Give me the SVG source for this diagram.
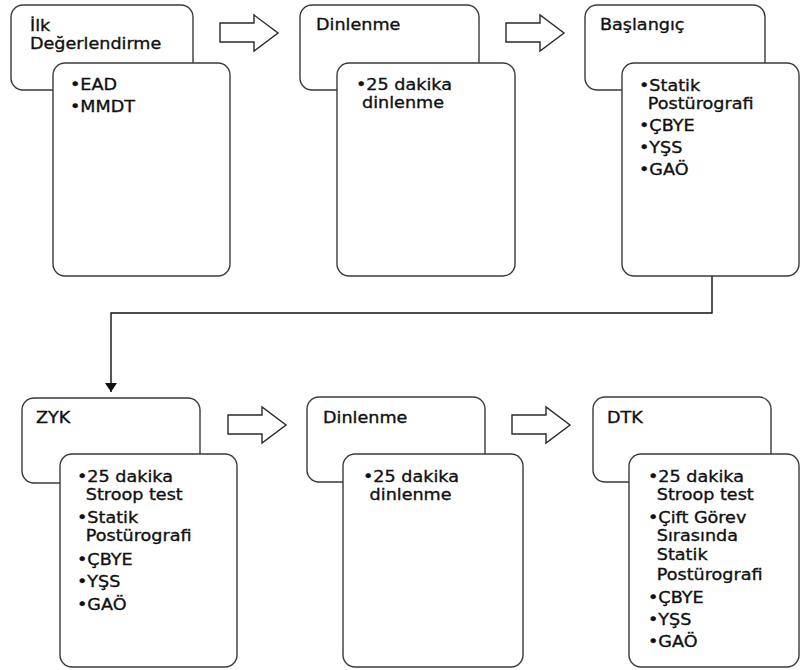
<svg xmlns="http://www.w3.org/2000/svg" width="800" height="670" viewBox="0 0 800 670">
<style>
.bx{fill:#fff;stroke:#3a3a3a;stroke-width:1.4}
.ar{fill:#fff;stroke:#2a2a2a;stroke-width:1.4;stroke-linejoin:miter}
.t{font-family:"DejaVu Sans","Verdana",sans-serif;font-size:16px;fill:#111;stroke:#111;stroke-width:0.35}
.cn{fill:none;stroke:#111;stroke-width:1.4}
</style>
<defs>
<marker id="ah" viewBox="0 0 9 12" refX="9" refY="6" markerWidth="9" markerHeight="12" markerUnits="userSpaceOnUse" orient="auto">
<path d="M0,0 L9,6 L0,12 Z" fill="#111"/>
</marker>
<path id="blk" d="M0,8 H34 V0 L58,18 L34,36 V27 H0 Z"/>
</defs>
<rect width="800" height="670" fill="#fff"/>

<g id="connectors">
<use href="#blk" class="ar" transform="translate(220 15)"/>
<use href="#blk" class="ar" transform="translate(506 15)"/>
<use href="#blk" class="ar" transform="translate(228 407)"/>
<use href="#blk" class="ar" transform="translate(512 407)"/>
<path class="cn" d="M712,276 V313 H111 V392" marker-end="url(#ah)"/>
</g>

<g id="ilk">
<rect class="bx" x="11" y="5" width="182" height="85" rx="12"/>
<text class="t" transform="translate(30 31) scale(1.1 1)">İlk<tspan x="0" y="18.5">Değerlendirme</tspan></text>
<rect class="bx" x="53" y="63" width="177" height="213" rx="12"/>
<text class="t" transform="translate(70 90) scale(1.1 1)">•EAD<tspan x="0" y="22">•MMDT</tspan></text>
</g>

<g id="dinlenme1">
<rect class="bx" x="300" y="5" width="179" height="85" rx="12"/>
<text class="t" transform="translate(316 30) scale(1.1 1)">Dinlenme</text>
<rect class="bx" x="337" y="63" width="178" height="213" rx="12"/>
<text class="t" transform="translate(356 90) scale(1.1 1)">•25 dakika<tspan x="5.5" y="18.5">dinlenme</tspan></text>
</g>

<g id="baslangic">
<rect class="bx" x="585" y="5" width="180" height="85" rx="12"/>
<text class="t" transform="translate(600 30) scale(1.1 1)">Başlangıç</text>
<rect class="bx" x="622" y="63" width="177" height="213" rx="12"/>
<text class="t" transform="translate(639 91) scale(1.1 1)">•Statik<tspan x="8" y="18.5">Postürografi</tspan><tspan x="0" y="40.5">•ÇBYE</tspan><tspan x="0" y="62.5">•YŞS</tspan><tspan x="0" y="84.5">•GAÖ</tspan></text>
</g>

<g id="zyk">
<rect class="bx" x="22" y="398" width="178" height="85" rx="12"/>
<text class="t" transform="translate(36 423) scale(1.1 1)">ZYK</text>
<rect class="bx" x="60" y="454" width="177" height="213" rx="12"/>
<text class="t" transform="translate(77 482) scale(1.1 1)">•25 dakika<tspan x="8" y="18.5">Stroop test</tspan><tspan x="0" y="41">•Statik</tspan><tspan x="8" y="59.5">Postürografi</tspan><tspan x="0" y="83">•ÇBYE</tspan><tspan x="0" y="105.5">•YŞS</tspan><tspan x="0" y="128">•GAÖ</tspan></text>
</g>

<g id="dinlenme2">
<rect class="bx" x="307" y="397" width="178" height="85" rx="12"/>
<text class="t" transform="translate(323 423) scale(1.1 1)">Dinlenme</text>
<rect class="bx" x="343" y="454" width="180" height="213" rx="12"/>
<text class="t" transform="translate(363 482) scale(1.1 1)">•25 dakika<tspan x="6" y="18.5">dinlenme</tspan></text>
</g>

<g id="dtk">
<rect class="bx" x="593" y="397" width="178" height="85" rx="12"/>
<text class="t" transform="translate(607 423) scale(1.1 1)">DTK</text>
<rect class="bx" x="629" y="454" width="170" height="213" rx="12"/>
<text class="t" transform="translate(648 482) scale(1.1 1)">•25 dakika<tspan x="8" y="18.5">Stroop test</tspan><tspan x="0" y="41">•Çift Görev</tspan><tspan x="8" y="59.5">Sırasında</tspan><tspan x="8" y="78.5">Statik</tspan><tspan x="8" y="98">Postürografi</tspan><tspan x="0" y="121">•ÇBYE</tspan><tspan x="0" y="143">•YŞS</tspan><tspan x="0" y="165">•GAÖ</tspan></text>
</g>
</svg>
